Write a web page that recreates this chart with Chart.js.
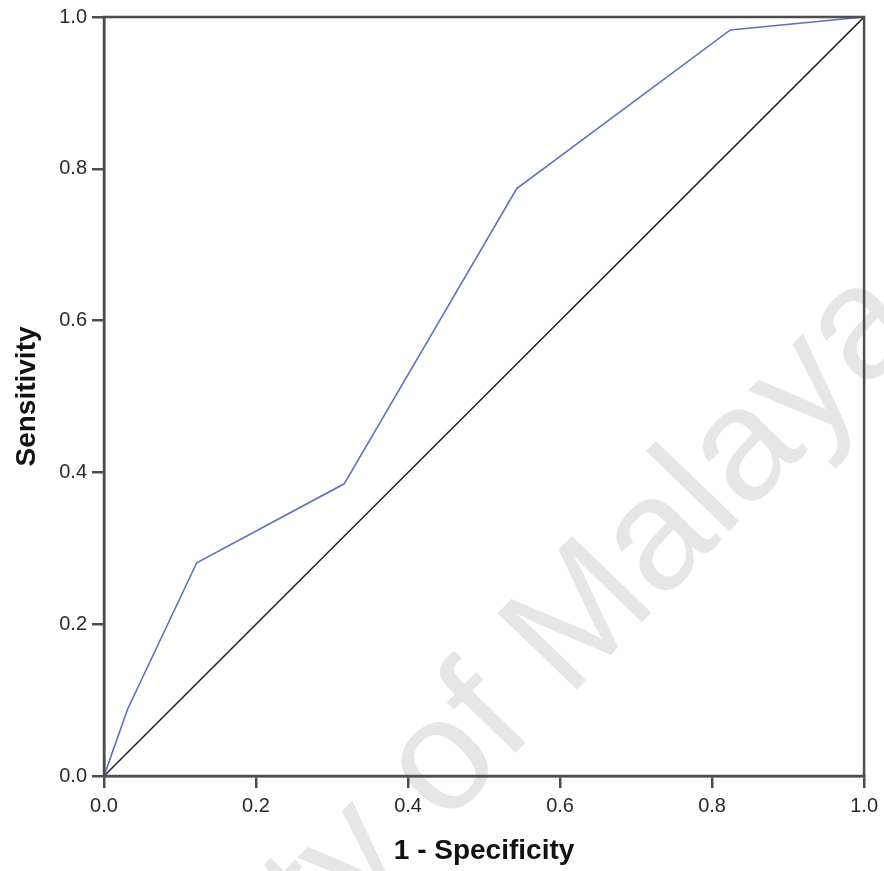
<!DOCTYPE html>
<html>
<head>
<meta charset="utf-8">
<script src="https://cdn.jsdelivr.net/npm/chart.js@4/dist/chart.umd.min.js"></script>
<style>
  html, body { margin: 0; padding: 0; background: #fff; }
  #wrap { width: 884px; height: 871px; }
</style>
</head>
<body>
<div id="wrap"><canvas id="rocChart" width="884" height="871"></canvas></div>
<script>
// ROC curve points (1 - specificity, sensitivity)
const fprValues = [0, 0.031, 0.122, 0.316, 0.543, 0.824, 1];
const sensValues = [0, 0.088, 0.281, 0.385, 0.774, 0.983, 1];
// reference diagonal
const refX = [0, 1];
const refY = [0, 1];
const tickValues = [0, 0.2, 0.4, 0.6, 0.8, 1.0];

const xTitle = '1 - Specificity';
const yTitle = 'Sensitivity';
const watermarkText = 'University of Malaya';

const FONT = "'Liberation Sans', Arial, sans-serif";
const AXIS_COLOR = '#4d4d4d';

// watermark behind the plot
const watermarkPlugin = {
  id: 'watermark',
  beforeDraw(chart) {
    const ctx = chart.ctx;
    ctx.save();
    ctx.fillStyle = '#fff';
    ctx.fillRect(0, 0, chart.width, chart.height);
    ctx.translate(926, 328);
    ctx.rotate(-46 * Math.PI / 180);
    ctx.font = '160px ' + FONT;
    ctx.fillStyle = '#e6e6e6';
    ctx.textAlign = 'right';
    ctx.textBaseline = 'alphabetic';
    ctx.fillText(watermarkText, 0, 0);
    ctx.restore();
  }
};

// closes the frame on the top and right sides
const framePlugin = {
  id: 'frame',
  afterDraw(chart) {
    const { left, right, top, bottom } = chart.chartArea;
    const ctx = chart.ctx;
    ctx.save();
    ctx.strokeStyle = AXIS_COLOR;
    ctx.lineWidth = 2.5;
    ctx.strokeRect(left, top, right - left, bottom - top);
    ctx.restore();
  }
};

function axisOptions(title, isX) {
  return {
    type: 'linear',
    min: 0,
    max: 1,
    afterBuildTicks: (scale) => {
      scale.ticks = tickValues.map(v => ({ value: v }));
    },
    afterFit: (scale) => {
      if (isX) scale.height = 95;
      else scale.width = 104;
    },
    grid: {
      display: true,
      drawOnChartArea: false,
      drawTicks: true,
      tickLength: 12,
      color: AXIS_COLOR,
      lineWidth: 2.5
    },
    border: { display: true, color: AXIS_COLOR, width: 2.5 },
    ticks: {
      padding: isX ? 6 : 5,
      color: '#2a2a2a',
      font: { family: FONT, size: 20 },
      maxRotation: 0,
      callback: (v) => Number(v).toFixed(1)
    },
    title: {
      display: true,
      text: title,
      color: '#111',
      font: { family: FONT, size: 28, weight: 'bold' },
      padding: isX ? { top: 0, bottom: 3 } : { top: 10, bottom: 0 }
    }
  };
}

new Chart(document.getElementById('rocChart'), {
  type: 'scatter',
  data: {
    datasets: [{
      label: 'ROC',
      data: fprValues.map((x, i) => ({ x: x, y: sensValues[i] })),
      showLine: true,
      borderColor: '#5a72c8',
      borderWidth: 1.6,
      pointRadius: 0,
      tension: 0,
      fill: false
    }, {
      label: 'Reference',
      data: refX.map((x, i) => ({ x: x, y: refY[i] })),
      showLine: true,
      borderColor: '#222',
      borderWidth: 1.5,
      pointRadius: 0,
      fill: false
    }]
  },
  options: {
    responsive: false,
    animation: false,
    devicePixelRatio: 1,
    layout: { padding: { top: 15, right: 18, left: 0, bottom: 0 } },
    plugins: {
      legend: { display: false },
      tooltip: { enabled: false }
    },
    scales: {
      x: axisOptions(xTitle, true),
      y: axisOptions(yTitle, false)
    }
  },
  plugins: [watermarkPlugin, framePlugin]
});
</script>
</body>
</html>
